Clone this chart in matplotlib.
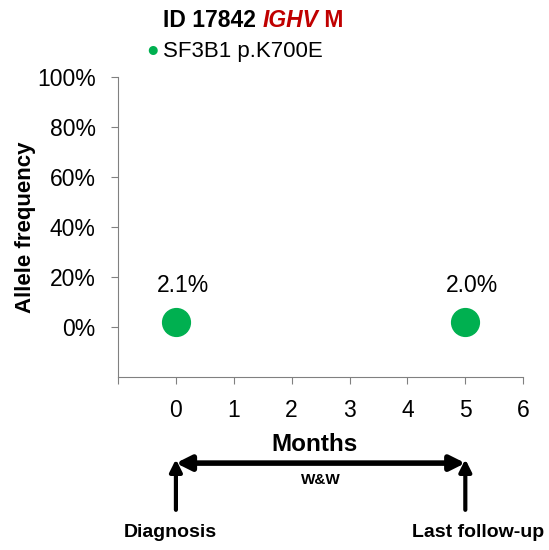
import matplotlib.pyplot as plt
from matplotlib.ticker import PercentFormatter
from matplotlib.transforms import offset_copy

plt.rcParams["font.family"] = ["Liberation Sans", "DejaVu Sans"]

patient_id = "ID 17842"
ighv_status = "M"
mutation = "SF3B1 p.K700E"
months = [0, 5]
allele_freq = [0.021, 0.020]
freq_labels = ["2.1%", "2.0%"]
event_months = [0, 5]
event_names = ["Diagnosis", "Last follow-up"]
phase_name = "W&W"

GREEN = "#00B050"
RED = "#C00000"
GREY = "#808080"

fig = plt.figure(figsize=(5.49, 5.50), dpi=100)
ax = fig.add_axes([0.215, 0.3145, 0.738, 0.5455])

ax.scatter(months, allele_freq, s=400, color=GREEN, zorder=3, clip_on=False)
for m, f, lab in zip(months, allele_freq, freq_labels):
    ax.annotate(lab, (m, f), xytext=(5, 18), textcoords="offset points",
                ha="center", va="bottom", fontsize=16.5)

ax.set_xlim(-1, 6)
ax.set_ylim(-0.2, 1.0)
ax.set_xticks(range(-1, 7))
ax.set_xticklabels([""] + [str(i) for i in range(7)])
ax.set_yticks([0, 0.2, 0.4, 0.6, 0.8, 1.0])
ax.yaxis.set_major_formatter(PercentFormatter(1.0, decimals=0))
ax.tick_params(labelsize=16.5, color=GREY, length=5)
ax.tick_params(axis="x", pad=11)
ax.tick_params(axis="y", pad=11)
for side in ("top", "right"):
    ax.spines[side].set_visible(False)
for side in ("left", "bottom"):
    ax.spines[side].set_color(GREY)
ax.set_ylabel("Allele frequency", fontsize=16, fontweight="bold", labelpad=1)

# title: patient id in black, IGHV status in red, pieces laid side by side
renderer = fig.canvas.get_renderer()
pieces = [(patient_id + " ", "black", "normal"),
          ("IGHV", RED, "italic"),
          (" " + ighv_status, RED, "normal")]
x_off = 0
for txt, col, style in pieces:
    t = fig.text(0.297, 0.962, txt, fontsize=16.5, fontweight="bold", color=col,
                 style=style, ha="left", va="center",
                 transform=offset_copy(fig.transFigure, fig=fig, x=x_off,
                                       units="dots"))
    x_off += t.get_window_extent(renderer).width

# legend
fig.text(0.277, 0.908, "\u25cf", color=GREEN, fontsize=15, ha="center", va="center")
fig.text(0.296, 0.906, mutation, fontsize=16, ha="left", va="center")

ax.annotate("Months", (2.4, 0.191), xycoords=("data", "figure fraction"),
            ha="center", va="center", fontsize=17.5, fontweight="bold")

# treatment timeline below the axis
y_line = 0.158
ax.annotate("", xy=(event_months[0], y_line), xytext=(event_months[1], y_line),
            xycoords=("data", "figure fraction"),
            textcoords=("data", "figure fraction"),
            arrowprops=dict(arrowstyle="<|-|>", lw=4, color="black",
                            mutation_scale=22, shrinkA=0, shrinkB=0),
            annotation_clip=False)
ax.annotate(phase_name, ((event_months[0] + event_months[1]) / 2, 0.127),
            xycoords=("data", "figure fraction"), ha="center", va="center",
            fontsize=11, fontweight="bold", annotation_clip=False)
for m, name, dx in zip(event_months, event_names, [-4, 9]):
    ax.annotate("", xy=(m, 0.165), xytext=(m, 0.073),
                xycoords=("data", "figure fraction"),
                textcoords=("data", "figure fraction"),
                arrowprops=dict(arrowstyle="-|>", lw=3, color="black",
                                mutation_scale=18, shrinkA=0, shrinkB=0),
                annotation_clip=False)
    ax.annotate(name, (m, 0.031), xycoords=("data", "figure fraction"),
                xytext=(dx, 0), textcoords="offset points",
                ha="center", va="center", fontsize=14, fontweight="bold",
                annotation_clip=False)

fig.savefig("out.png", dpi=100)
